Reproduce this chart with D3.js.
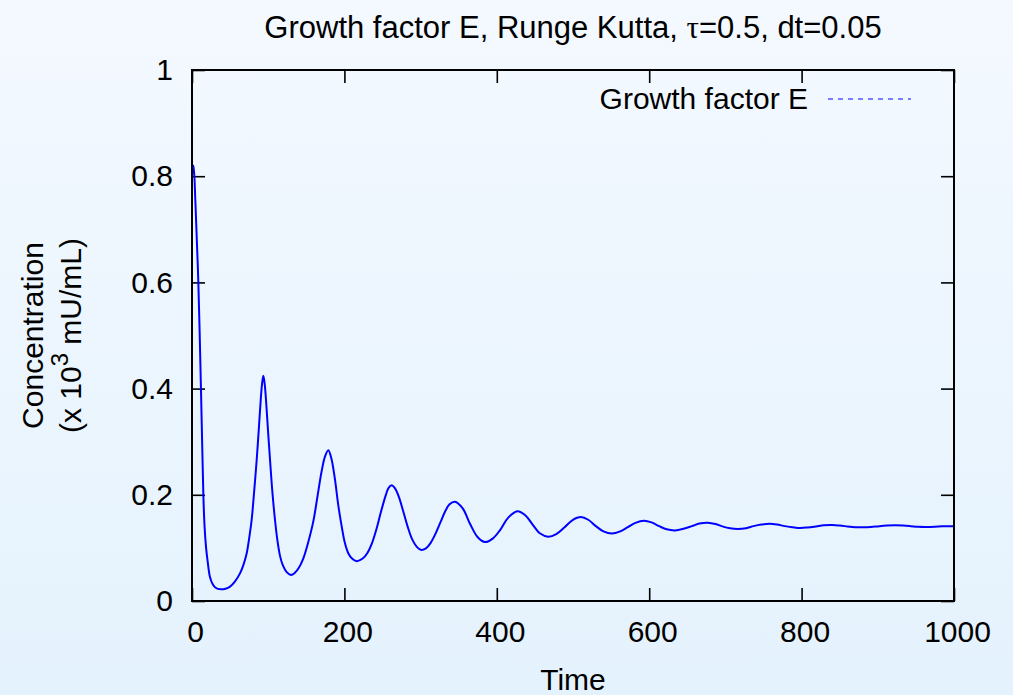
<!DOCTYPE html>
<html><head><meta charset="utf-8">
<script src="https://cdn.jsdelivr.net/npm/d3@7"></script>
<style>
body{margin:0;background:#eef6fe;}
svg{display:block;}
text{font-family:"Liberation Sans",Arial,sans-serif;fill:#000;}
</style>
</head><body>
<svg id="chart" width="1013" height="695"></svg>
<script>
// ---- data ----
const time = [0,2,4.5,8.3,11.6,13.3,14.9,16.5,18.5,20.5,23.6,27,31,37.7,44,49.9,56,63,67.5,71.8,75,78.3,81.5,84.9,87.5,90.2,92,93.6,95.3,97.1,99.8,102.4,105.5,108.9,112,115.5,119,124,129.9,135,140,146,152,159.2,165,170.2,174.5,178.9,183,187.7,192,196.5,200.5,205.1,210,216.1,224,230,236,242,248,254,258,262,266,271,277,283,289,295,301,307,313,319,326,332,338,345,355,365,375,384.5,395,405,415,427,437,447,457,467.5,478,489,499,510.5,520,530,540,551,562,572,582,593,603,613,623,634,645,656,666,677,687,697,706,716,727,737,747,758,768,778,788,798,808,819,829,840,850,860,870,881,891,902,912,923,933,943,953,964,975,985,1000];
const growthE = [0.80,0.82,0.75,0.60,0.41,0.30,0.20,0.14,0.10,0.075,0.045,0.032,0.025,0.022,0.023,0.027,0.036,0.052,0.068,0.090,0.118,0.153,0.205,0.266,0.32,0.379,0.41,0.424,0.41,0.379,0.32,0.266,0.205,0.153,0.115,0.085,0.068,0.055,0.049,0.053,0.062,0.080,0.108,0.150,0.20,0.245,0.272,0.284,0.268,0.228,0.18,0.140,0.11,0.090,0.080,0.075,0.080,0.090,0.108,0.135,0.168,0.198,0.213,0.218,0.213,0.198,0.170,0.140,0.116,0.102,0.096,0.099,0.109,0.125,0.148,0.168,0.182,0.187,0.175,0.145,0.120,0.111,0.118,0.135,0.157,0.169,0.162,0.144,0.127,0.121,0.126,0.139,0.152,0.158,0.153,0.141,0.131,0.127,0.131,0.139,0.147,0.151,0.148,0.141,0.135,0.133,0.136,0.141,0.146,0.1475,0.145,0.140,0.137,0.1356,0.137,0.141,0.144,0.1456,0.144,0.141,0.139,0.1375,0.1385,0.1405,0.1425,0.143,0.142,0.1405,0.139,0.1388,0.1395,0.141,0.142,0.1425,0.142,0.141,0.1398,0.1395,0.140,0.1408,0.141];
const xTicks = [0,200,400,600,800,1000];
const xTickLabels = ["0","200","400","600","800","1000"];
const yTicks = [0,0.2,0.4,0.6,0.8,1];
const yTickLabels = ["0","0.2","0.4","0.6","0.8","1"];
const seriesName = "Growth factor E";
const xLabel = "Time";
const yLabelLine1 = "Concentration";

// ---- drawing ----
const svg = d3.select("#chart");
const W = 1013, H = 695;
const M = {left:192, right:954, top:70, bottom:601};

const defs = svg.append("defs");
const grad = defs.append("linearGradient").attr("id","bg").attr("x1",0).attr("y1",0).attr("x2",0).attr("y2",1);
grad.append("stop").attr("offset","0%").attr("stop-color","#f4f9ff");
grad.append("stop").attr("offset","100%").attr("stop-color","#e4f2fd");
svg.append("rect").attr("width",W).attr("height",H).attr("fill","url(#bg)");

const x = d3.scaleLinear().domain([0,1000]).range([M.left,M.right]);
const y = d3.scaleLinear().domain([0,1]).range([M.bottom,M.top]);

const FS = 30;
const tickLen = 13;

function styleAxis(g){
  g.select(".domain").remove();
  g.selectAll(".tick line").attr("stroke","#000").attr("stroke-width",1.6);
  g.selectAll(".tick text").attr("font-size",FS).attr("font-family","'Liberation Sans',Arial,sans-serif").attr("fill","#000");
}

svg.append("g").attr("transform",`translate(0,${M.bottom})`)
  .call(d3.axisBottom(x).tickValues(xTicks).tickSize(-tickLen).tickPadding(20).tickFormat((d,i)=>xTickLabels[i]))
  .call(styleAxis)
  .call(g=>g.selectAll(".tick text").attr("dx",3));

svg.append("g").attr("transform",`translate(0,${M.top})`)
  .call(d3.axisTop(x).tickValues(xTicks).tickSize(-tickLen).tickFormat(""))
  .call(styleAxis);

svg.append("g").attr("transform",`translate(${M.left},0)`)
  .call(d3.axisLeft(y).tickValues(yTicks).tickSize(-tickLen).tickPadding(19).tickFormat((d,i)=>yTickLabels[i]))
  .call(styleAxis);

svg.append("g").attr("transform",`translate(${M.right},0)`)
  .call(d3.axisRight(y).tickValues(yTicks).tickSize(-tickLen).tickFormat(""))
  .call(styleAxis);

// series
const data = time.map((t,i)=>({t:t, v:growthE[i]}));
const line = d3.line().x(d=>x(d.t)).y(d=>y(d.v)).curve(d3.curveCatmullRom.alpha(0.5));
svg.append("path").datum(data).attr("d",line)
  .attr("fill","none").attr("stroke","#0000ff").attr("stroke-width",2).attr("stroke-linejoin","round");

// frame
svg.append("rect").attr("x",M.left).attr("y",M.top)
  .attr("width",M.right-M.left).attr("height",M.bottom-M.top)
  .attr("fill","none").attr("stroke","#000").attr("stroke-width",2);

// title
const title = svg.append("text").attr("x",(M.left+M.right)/2).attr("y",38)
  .attr("text-anchor","middle").attr("font-size",31);
title.append("tspan").text("Growth factor E, Runge Kutta, ");
title.append("tspan").attr("font-family","'Liberation Serif','DejaVu Serif',serif").text("τ");
title.append("tspan").text("=0.5, dt=0.05");

// x label
svg.append("text").attr("x",(M.left+M.right)/2).attr("y",690)
  .attr("text-anchor","middle").attr("font-size",FS).text(xLabel);

// y label (two lines)
const cy = (M.top+M.bottom)/2;
svg.append("text").attr("transform",`translate(43,${cy}) rotate(-90)`)
  .attr("text-anchor","middle").attr("font-size",FS).text(yLabelLine1);
const yl2 = svg.append("text").attr("transform",`translate(81,${cy}) rotate(-90)`)
  .attr("text-anchor","middle").attr("font-size",FS);
yl2.append("tspan").text("(x 10");
yl2.append("tspan").attr("font-size",FS*0.8).attr("dy",-FS*0.45).text("3");
yl2.append("tspan").attr("dy",FS*0.45).text(" mU/mL)");

// legend
svg.append("text").attr("x",808).attr("y",109).attr("text-anchor","end").attr("font-size",FS).text(seriesName);
svg.append("line").attr("x1",828).attr("x2",911).attr("y1",99).attr("y2",99)
  .attr("stroke","#0000ff").attr("stroke-width",1).attr("stroke-dasharray","5,5");
</script>
</body></html>
